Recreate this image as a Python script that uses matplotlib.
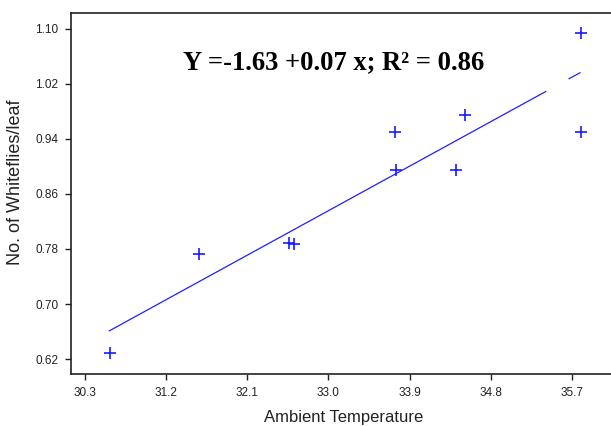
import numpy as np
import matplotlib
matplotlib.use("Agg")
import matplotlib.pyplot as plt

# observed points: ambient temperature vs whiteflies per leaf
temperature = [30.58, 31.56, 32.56, 32.62, 33.74, 33.75, 34.41, 34.51, 35.80, 35.80]
whiteflies = [0.629, 0.773, 0.789, 0.787, 0.950, 0.895, 0.895, 0.975, 1.094, 0.950]

# fitted line as drawn (two pieces, gap near the right end)
fit_slope = 0.0719
fit_intercept = -1.537
fit_pieces = [(30.57, 35.41), (35.67, 35.79)]

xticks = [30.3, 31.2, 32.1, 33.0, 33.9, 34.8, 35.7]
yticks = [0.62, 0.70, 0.78, 0.86, 0.94, 1.02, 1.10]

plt.rcParams['font.family'] = ['Liberation Sans', 'DejaVu Sans']

fig = plt.figure(figsize=(6.11, 4.26), dpi=100)
ax = fig.add_axes([71 / 611, 52 / 426, 545 / 611, 361 / 426])

for x0, x1 in fit_pieces:
    xs = np.array([x0, x1])
    ax.plot(xs, fit_intercept + fit_slope * xs, color='#2020ff', lw=0.9)

ax.plot(temperature, whiteflies, linestyle='none', marker='+', ms=9,
        mew=1.2, color='#1a1aff')

ax.set_xlim(30.145, 36.19)
ax.set_ylim(0.5982, 1.1232)
ax.set_xticks(xticks)
ax.set_xticklabels([f"{t:.1f}" for t in xticks])
ax.set_yticks(yticks)
ax.set_yticklabels([f"{t:.2f}" for t in yticks])
ax.tick_params(direction='out', length=4, width=1, labelsize=8.5,
               colors='#222222', pad=5)

ax.spines['right'].set_visible(False)
for s in ['left', 'bottom', 'top']:
    ax.spines[s].set_linewidth(1.2)
    ax.spines[s].set_color('#222222')

ax.set_xlabel('Ambient Temperature', fontsize=12, color='#222222', labelpad=8)
ax.set_ylabel('No. of Whiteflies/leaf', fontsize=13, color='#222222')
ax.yaxis.set_label_coords(-0.086, 0.532)

ax.text((183 - 71) / 545, (374 - 63) / 361, 'Y =-1.63 +0.07 x; R² = 0.86',
        transform=ax.transAxes, ha='left', va='center',
        fontsize=19.2, fontweight='bold', family='Liberation Serif')

fig.savefig('out.png', dpi=100)
